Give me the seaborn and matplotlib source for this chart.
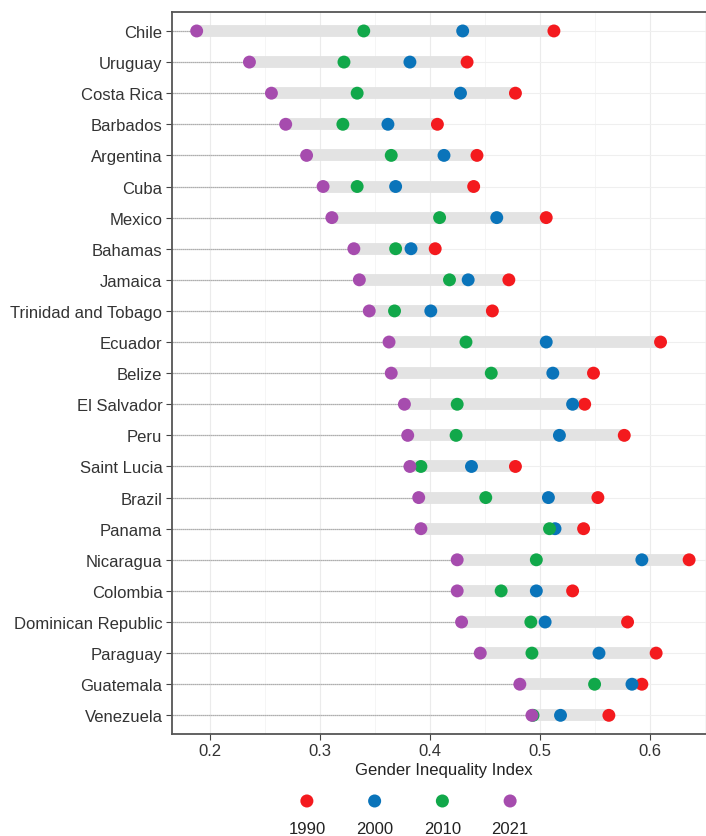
import numpy as np
import pandas as pd
import matplotlib
matplotlib.use("Agg")
import matplotlib.pyplot as plt
import seaborn as sns

countries = ["Chile", "Uruguay", "Costa Rica", "Barbados", "Argentina", "Cuba", "Mexico",
             "Bahamas", "Jamaica", "Trinidad and Tobago", "Ecuador", "Belize", "El Salvador",
             "Peru", "Saint Lucia", "Brazil", "Panama", "Nicaragua", "Colombia",
             "Dominican Republic", "Paraguay", "Guatemala", "Venezuela"]
gii_1990 = [0.513, 0.434, 0.478, 0.407, 0.443, 0.440, 0.506, 0.405, 0.472, 0.457, 0.610,
            0.549, 0.541, 0.577, 0.478, 0.553, 0.540, 0.636, 0.530, 0.580, 0.606, 0.593, 0.563]
gii_2000 = [0.430, 0.382, 0.428, 0.362, 0.413, 0.369, 0.461, 0.383, 0.435, 0.401, 0.506,
            0.512, 0.530, 0.518, 0.438, 0.508, 0.514, 0.593, 0.497, 0.505, 0.554, 0.584, 0.519]
gii_2010 = [0.340, 0.322, 0.334, 0.321, 0.365, 0.334, 0.409, 0.369, 0.418, 0.368, 0.433,
            0.456, 0.425, 0.424, 0.392, 0.451, 0.509, 0.497, 0.465, 0.492, 0.493, 0.550, 0.494]
gii_2021 = [0.188, 0.236, 0.256, 0.269, 0.288, 0.303, 0.311, 0.331, 0.336, 0.345, 0.363,
            0.365, 0.377, 0.380, 0.382, 0.390, 0.392, 0.425, 0.425, 0.429, 0.446, 0.482, 0.493]
years = ["1990", "2000", "2010", "2021"]
colors = ["#F41A1E", "#0A74BA", "#11A84A", "#A64CAE"]

wide = pd.DataFrame({"country": countries, "1990": gii_1990, "2000": gii_2000,
                     "2010": gii_2010, "2021": gii_2021})
long = wide.melt(id_vars="country", value_vars=years, var_name="year", value_name="gii")
wide["lo"] = wide[years].min(axis=1)
wide["hi"] = wide[years].max(axis=1)

sns.set_theme(style="white")
plt.rcParams["font.family"] = ["Liberation Sans", "DejaVu Sans"]

W, H = 706, 837
fig = plt.figure(figsize=(W / 100, H / 100), dpi=100)
fig.patch.set_facecolor("white")

xlo, xhi = 0.1651, 0.66
ax_l, ax_r, ax_t, ax_b = 171.5, 715.5, 13.3, 735
ax = fig.add_axes([ax_l / W, 1 - ax_b / H, (ax_r - ax_l) / W, (ax_b - ax_t) / H])

n = len(countries)
ypos = np.arange(n)

# grid
for v in np.arange(0.2, 0.66, 0.1):
    ax.axvline(v, color="#EBEBEB", lw=0.8, zorder=0)
for v in np.arange(0.25, 0.66, 0.1):
    ax.axvline(v, color="#F4F4F4", lw=0.6, zorder=0)
for y in ypos:
    ax.axhline(y, color="#EFEFEF", lw=0.8, zorder=0)

# leader lines and range bars
ax.hlines(ypos, xlo, wide["lo"], color="#9A9A9A", lw=0.9, linestyles=(0, (1, 0.6)), zorder=1)
ax.hlines(ypos, wide["lo"], wide["hi"], color="#E3E3E3", lw=8.5, zorder=2)

sns.stripplot(data=long, x="gii", y="country", hue="year", order=countries,
              hue_order=years, palette=colors, jitter=False, dodge=False,
              size=9.3, linewidth=0, ax=ax, legend=False, zorder=3)

ax.set_xlim(xlo, xhi)
ax.set_ylim(n - 1 + 0.6, -0.6)
ax.set_xticks([0.2, 0.3, 0.4, 0.5, 0.6])
ax.set_xticklabels(["0.2", "0.3", "0.4", "0.5", "0.6"])
ax.set_xlabel("Gender Inequality Index", fontsize=12, color="#222222", labelpad=3)
ax.set_ylabel("")
ax.tick_params(axis="both", which="major", labelsize=12, labelcolor="#333333",
               length=4, width=0.8, color="#444444", pad=2.5, left=True, bottom=True)
for s in ax.spines.values():
    s.set_color("#555555")
    s.set_linewidth(1.3)

# legend (labels under keys)
lg = fig.add_axes([273 / W, 0, 271 / W, 47 / H])
lg.set_xlim(-0.5, 3.5)
lg.set_ylim(0, 1)
lg.axis("off")
leg_df = pd.DataFrame({"year": years, "x": np.arange(len(years)), "y": 0.745})
sns.scatterplot(data=leg_df, x="x", y="y", hue="year", palette=colors, hue_order=years,
                s=88, linewidth=0, ax=lg, legend=False)
for i, yr in enumerate(years):
    lg.text(i, 0.16, yr, ha="center", va="center", fontsize=12, color="#222222")

fig.savefig("out.png", dpi=100, facecolor="white")
